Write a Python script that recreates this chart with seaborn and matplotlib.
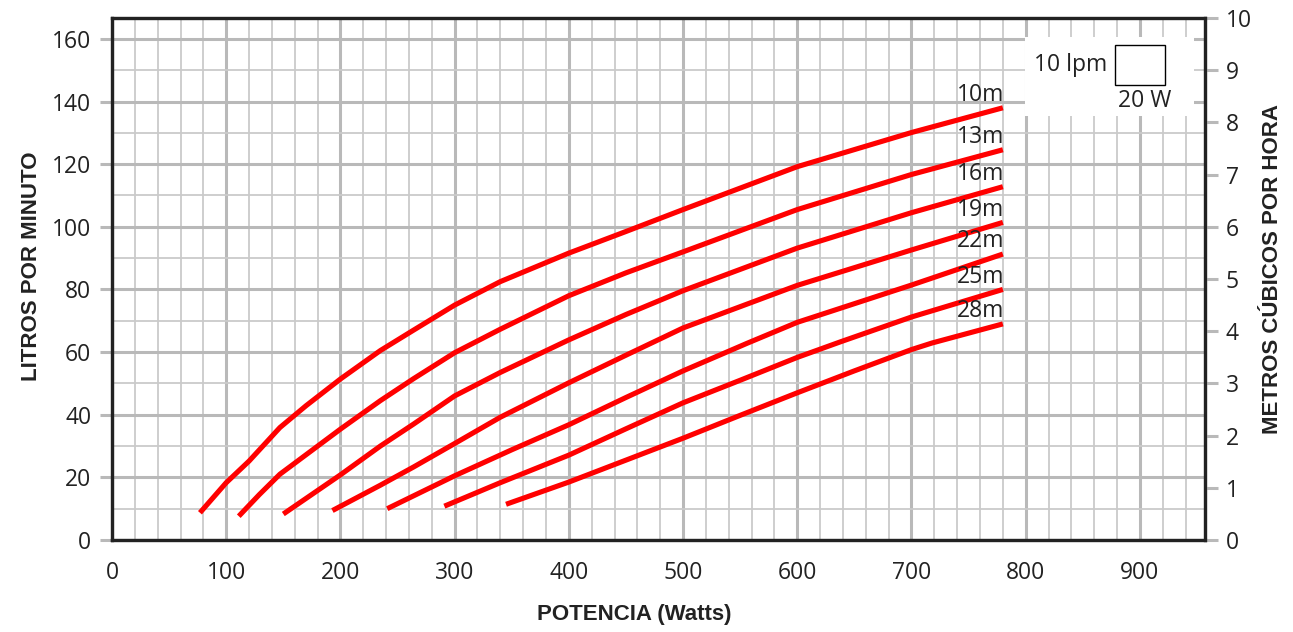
import numpy as np
import pandas as pd
import matplotlib
matplotlib.use('Agg')
import matplotlib.pyplot as plt
from matplotlib.ticker import MultipleLocator
from matplotlib.patches import Rectangle
import seaborn as sns

sns.set_style('white')
plt.rcParams['font.family'] = ['Open Sans', 'DejaVu Sans']

# curves: potencia (W) vs caudal (litros/minuto)
alturas = ['10m', '13m', '16m', '19m', '22m', '25m', '28m']

watts_10m = [77, 100, 120, 147, 170, 200, 235, 264, 300, 340, 400, 450, 500, 600, 700, 780]
lpm_10m = [8.7, 18.3, 25.2, 35.9, 42.9, 51.4, 60.5, 67, 75, 82.5, 91.6, 98.5, 105.5, 119.2, 130.1, 138]

watts_13m = [111, 129, 147, 200, 235, 264, 300, 340, 400, 450, 500, 600, 700, 780]
lpm_13m = [7.6, 14.5, 21, 35.4, 44.5, 51.5, 59.8, 67.3, 78, 85.3, 92, 105.5, 116.7, 124.6]

watts_16m = [150, 200, 235, 264, 300, 340, 400, 450, 500, 600, 700, 780]
lpm_16m = [8.3, 20.8, 30, 37, 46, 53.5, 63.9, 72, 79.6, 93.2, 104.5, 112.8]

watts_19m = [193, 235, 264, 300, 340, 400, 450, 500, 600, 700, 780]
lpm_19m = [9.4, 17.5, 23.3, 30.8, 39.2, 50.2, 59, 67.7, 81.3, 92.6, 101.4]

watts_22m = [241, 300, 350, 400, 450, 500, 556, 600, 700, 780]
lpm_22m = [10, 20.5, 28.8, 36.8, 45.5, 54, 62.8, 69.5, 81.4, 91.3]

watts_25m = [291, 340, 400, 450, 500, 550, 600, 638, 700, 780]
lpm_25m = [10.8, 18.3, 27.1, 35.5, 43.8, 51, 58.3, 63.3, 71.2, 80]

watts_28m = [345, 400, 450, 500, 550, 600, 650, 700, 718, 780]
lpm_28m = [11.4, 18.5, 25.5, 32.5, 39.8, 47, 54, 60.8, 62.9, 69]

curvas = {
    '10m': (watts_10m, lpm_10m),
    '13m': (watts_13m, lpm_13m),
    '16m': (watts_16m, lpm_16m),
    '19m': (watts_19m, lpm_19m),
    '22m': (watts_22m, lpm_22m),
    '25m': (watts_25m, lpm_25m),
    '28m': (watts_28m, lpm_28m),
}

x_ticks = list(range(0, 1000, 100))
y_ticks = list(range(0, 180, 20))
m3h_ticks = list(range(0, 11))

rows = []
for alt in alturas:
    w, q = curvas[alt]
    for a, b in zip(w, q):
        rows.append({'potencia': a, 'lpm': b, 'altura': alt})
df = pd.DataFrame(rows)

label_font = ['Liberation Sans Narrow', 'Liberation Sans', 'DejaVu Sans']
grid_major = '#b9b9b9'
grid_minor = '#cacaca'
text_col = '#222222'

fig = plt.figure(figsize=(12.93, 6.32), dpi=100)
ax = fig.add_axes([112 / 1293, 92 / 632, 1093 / 1293, 522 / 632])

# 10 m3/h = 166.7 lpm, so both y axes share the same top
ax.set_xlim(0, 957)
ax.set_ylim(0, 160 * 10 / 9.6)
ax.set_xticks(x_ticks)
ax.set_yticks(y_ticks)
ax.xaxis.set_minor_locator(MultipleLocator(20))
ax.yaxis.set_minor_locator(MultipleLocator(10))
ax.grid(which='major', color=grid_major, lw=2.2, zorder=0)
ax.grid(which='minor', color=grid_minor, lw=1.3, zorder=0)
ax.set_axisbelow(True)

sns.lineplot(data=df, x='potencia', y='lpm', hue='altura', palette=['#ff0000'] * 7,
             estimator=None, sort=False, linewidth=3.7, legend=False, ax=ax, zorder=3)
for line in ax.get_lines():
    line.set_solid_capstyle('butt')
    line.set_solid_joinstyle('round')

for alt in alturas:
    w, q = curvas[alt]
    ax.text(w[-1] + 1, q[-1] + 2.2, alt, ha='right', va='baseline', fontsize=16.5,
            color=text_col, zorder=5)

# scale box in the corner
ax.add_patch(Rectangle((799, 135.3), 148, 25.4, facecolor='white', edgecolor='none', zorder=2))
ax.add_patch(Rectangle((878, 145.3), 44, 12.6, facecolor='white', edgecolor='black', lw=1.0, zorder=4))
ax.text(839, 151.7, '10 lpm', ha='center', va='center', fontsize=16.5, color=text_col, zorder=5)
ax.text(904, 140.2, '20 W', ha='center', va='center', fontsize=16.5, color=text_col, zorder=5)

for s in ax.spines.values():
    s.set_color(text_col)
    s.set_linewidth(2.3)
    s.set_visible(True)

ax.tick_params(which='major', length=9, width=2.2, color=grid_major, labelsize=16.5,
               labelcolor=text_col, pad=6, direction='out')
ax.tick_params(which='minor', length=0)

ax.set_xlabel('POTENCIA (Watts)', fontsize=16, fontweight='bold', family=label_font, color=text_col)
ax.set_ylabel('LITROS POR MINUTO', fontsize=16, fontweight='bold', family=label_font, color=text_col)
ax.xaxis.set_label_coords(0.478, -0.123)
ax.yaxis.set_label_coords(-0.064, 0.525)

ax2 = ax.twinx()
ax2.set_ylim(0, 10)
ax2.set_yticks(m3h_ticks)
ax2.tick_params(axis='y', length=9, width=2.2, color=grid_major, labelsize=16.5,
                labelcolor=text_col, pad=6, direction='out')
for s in ax2.spines.values():
    s.set_color(text_col)
    s.set_linewidth(2.3)
ax2.set_ylabel('METROS CÚBICOS POR HORA', fontsize=16, fontweight='bold', family=label_font,
               color=text_col)
ax2.yaxis.set_label_coords(1.052, 0.52)

fig.savefig('out.png', dpi=100)
